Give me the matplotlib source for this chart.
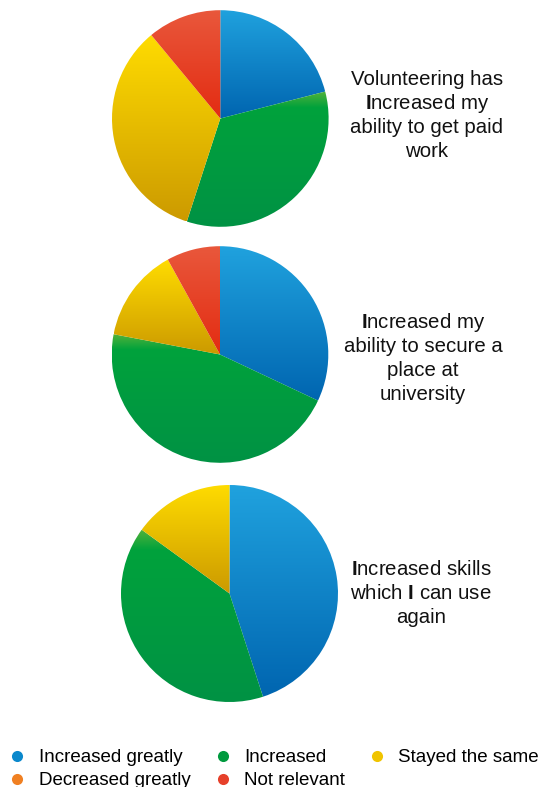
import numpy as np
import matplotlib
matplotlib.use("Agg")
import matplotlib.pyplot as plt
from matplotlib.colors import to_rgb
from matplotlib.lines import Line2D

plt.rcParams["font.family"] = ["Liberation Sans", "DejaVu Sans"]
# heavier capital I at the start of the questions, done via mathtext
plt.rcParams["mathtext.fontset"] = "custom"
plt.rcParams["mathtext.rm"] = "Liberation Sans"
plt.rcParams["mathtext.bf"] = "Liberation Sans:bold"

# answer categories, in pie order (clockwise from 12 o'clock)
categories = ["Increased greatly", "Increased", "Stayed the same",
              "Decreased greatly", "Not relevant"]

paid_work = [21, 34, 34, 0, 11]
university = [32, 46, 14, 0, 8]
skills = [45, 40, 15, 0, 0]

questions = [
    "Volunteering has\n$\\mathbf{I}$ncreased my\nability to get paid\nwork",
    "$\\mathbf{I}$ncreased my\nability to secure a\nplace at\nuniversity",
    "$\\mathbf{I}$ncreased skills\nwhich $\\mathbf{I}$ can use\nagain",
]

# top -> bottom colour stops for each slice
gradients = {
    "Increased greatly": [(0.0, "#20a2de"), (1.0, "#0065b0")],
    "Increased": [(0.0, "#52b23a"), (0.12, "#00a23c"), (1.0, "#009244")],
    "Stayed the same": [(0.0, "#ffdc00"), (1.0, "#cc9a00")],
    "Decreased greatly": [(0.0, "#f49a2c"), (1.0, "#ec6a14")],
    "Not relevant": [(0.0, "#e9583c"), (1.0, "#e32c12")],
}
legend_colors = {
    "Increased greatly": "#0a88cc",
    "Increased": "#009a3e",
    "Stayed the same": "#f0c400",
    "Decreased greatly": "#f08022",
    "Not relevant": "#e6402a",
}


def gradient_strip(stops, n=256):
    pos = np.array([p for p, _ in stops])
    rgb = np.array([to_rgb(c) for _, c in stops])
    t = np.linspace(0, 1, n)
    cols = np.stack([np.interp(t, pos, rgb[:, k]) for k in range(3)], axis=1)
    return cols[:, None, :]


W, H = 542, 787
fig = plt.figure(figsize=(W / 100, H / 100), dpi=100)
ax = fig.add_axes([0, 0, 1, 1])

# (centre x, centre y) in pixels with y measured upwards, pie radius
pies = [((220.3, 668.5), 108.3), ((220.0, 432.5), 108.3), ((229.5, 193.5), 108.5)]
label_pos = [(427, 673.5), (423, 430), (421, 195.5)]
line_step = 24.0   # px between question lines
cap_half = 7.3     # half the cap height, baseline -> middle of capitals

for values, (centre, r), text, tpos in zip([paid_work, university, skills],
                                          pies, questions, label_pos):
    cats = [c for c, v in zip(categories, values) if v > 0]
    vals = [v for v in values if v > 0]
    wedges, _ = ax.pie(vals, center=centre, radius=r, startangle=90,
                       counterclock=False,
                       wedgeprops=dict(linewidth=0, edgecolor="none"))
    for w, cat in zip(wedges, cats):
        w.set_facecolor("none")
        bb = w.get_patch_transform().transform_path(w.get_path()).get_extents()
        img = ax.imshow(gradient_strip(gradients[cat]), origin="upper",
                        extent=(bb.x0, bb.x1, bb.y0, bb.y1),
                        aspect="auto", interpolation="bilinear", zorder=1)
        img.set_clip_path(w)

    # one text per line so the mathtext lines keep an even pitch
    lines = text.split("\n")
    top = tpos[1] + (len(lines) - 1) / 2 * line_step
    for i, line in enumerate(lines):
        ax.text(tpos[0], top - i * line_step - cap_half, line,
                ha="center", va="baseline", fontsize=14.7, color="#111111")

ax.set_xlim(0, W)
ax.set_ylim(0, H)
ax.axis("off")

# legend fills column-wise, so reorder to get the three-over-two layout
order = ["Increased greatly", "Decreased greatly", "Increased",
         "Not relevant", "Stayed the same"]
handles = [Line2D([], [], marker="o", linestyle="none", markersize=8,
                  markerfacecolor=legend_colors[c], markeredgewidth=0)
           for c in order]
fig.legend(handles, order, loc="upper left",
           bbox_to_anchor=(8 / W, 38 / H), ncol=3, frameon=False,
           fontsize=13.5, handlelength=1.0, handletextpad=0.65,
           columnspacing=1.2, labelspacing=0.31, borderpad=0,
           borderaxespad=0)

fig.savefig("out.png", dpi=100)
